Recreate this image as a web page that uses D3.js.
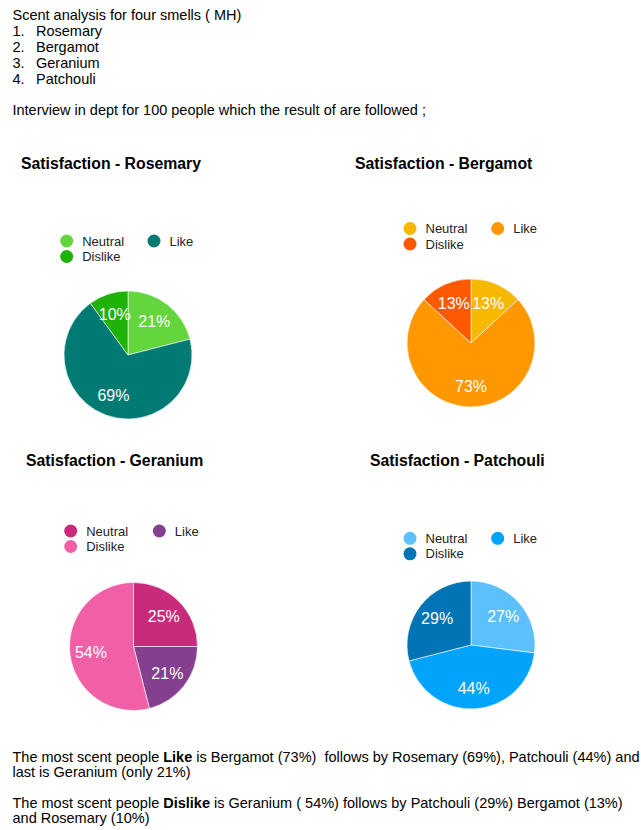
<!DOCTYPE html>
<html>
<head>
<meta charset="utf-8">
<script src="https://cdn.jsdelivr.net/npm/d3@7"></script>
<style>
  html, body { margin: 0; padding: 0; background: #fff; }
  svg { display: block; }
  text { font-family: "Liberation Sans", Arial, Helvetica, sans-serif; }
</style>
</head>
<body>
<svg id="page" width="641" height="830"></svg>
<script>
// Survey answers for each scent (percent of 100 people)
const categories = ["Neutral", "Like", "Dislike"];
const scents = ["Rosemary", "Bergamot", "Geranium", "Patchouli"];
const rosemaryValues  = [21, 69, 10];
const bergamotValues  = [13, 73, 13];
const geraniumValues  = [25, 21, 54];
const patchouliValues = [27, 44, 29];

const rosemaryColors  = ["#62d63c", "#007a72", "#1fb209"];
const bergamotColors  = ["#f6b800", "#fe9700", "#ff5900"];
const geraniumColors  = ["#c92a79", "#84408e", "#f160a6"];
const patchouliColors = ["#5cc0fc", "#02a3fa", "#0274b6"];

const introLines = ["Scent analysis for four smells ( MH)"];
const listItems = ["Rosemary", "Bergamot", "Geranium", "Patchouli"];
const interviewLine = "Interview in dept for 100 people which the result of are followed ;";

const svg = d3.select("#page");

// Header text
const head = svg.append("g").attr("fill", "#000").attr("font-size", 14.5);
head.append("text").attr("x", 12.5).attr("y", 19.5).text(introLines[0]);
listItems.forEach((item, i) => {
  const y = 35.5 + i * 16;
  head.append("text").attr("x", 12.5).attr("y", y).text((i + 1) + ".");
  head.append("text").attr("x", 36).attr("y", y).text(item);
});
head.append("text").attr("x", 12.5).attr("y", 115).text(interviewLine);

// Layout of the four panels
const panels = [
  { name: scents[0], values: rosemaryValues,  colors: rosemaryColors,
    title: [21, 169],  legend: [66.7, 241, 154], center: [128, 355] },
  { name: scents[1], values: bergamotValues,  colors: bergamotColors,
    title: [355, 169], legend: [410, 228.5, 497.7], center: [471, 343] },
  { name: scents[2], values: geraniumValues,  colors: geraniumColors,
    title: [26, 466],  legend: [70.7, 531, 159.3], center: [133.5, 646.5] },
  { name: scents[3], values: patchouliValues, colors: patchouliColors,
    title: [370, 466], legend: [410, 538.3, 497.7], center: [471, 645] }
];

const radius = 64;
const pie = d3.pie().sort(null).value(d => d.value);
const arc = d3.arc().innerRadius(0).outerRadius(radius);
const labelArc = d3.arc().innerRadius(radius * 0.67).outerRadius(radius * 0.67);

panels.forEach(p => {
  const g = svg.append("g");

  g.append("text")
    .attr("x", p.title[0]).attr("y", p.title[1])
    .attr("font-size", 15.8).attr("font-weight", "bold").attr("fill", "#000")
    .text("Satisfaction - " + p.name);

  const color = d3.scaleOrdinal().domain(categories).range(p.colors);

  // Legend: Neutral and Like on the first row, Dislike below
  const [lx, ly, lx2] = p.legend;
  const legendPos = {
    Neutral: [lx, ly],
    Like: [lx2, ly],
    Dislike: [lx, ly + 15.5]
  };
  const leg = g.append("g").selectAll("g").data(categories).join("g")
    .attr("transform", d => `translate(${legendPos[d][0]},${legendPos[d][1]})`);
  leg.append("circle").attr("r", 6.5).attr("fill", d => color(d));
  leg.append("text").attr("x", 15.5).attr("y", 4.6)
    .attr("font-size", 13).attr("fill", "#222").text(d => d);

  // Pie slices, clockwise from 12 o'clock
  const data = categories.map((c, i) => ({ key: c, value: p.values[i] }));
  const arcs = pie(data);
  const pg = g.append("g").attr("transform", `translate(${p.center[0]},${p.center[1]})`);
  pg.selectAll("path").data(arcs).join("path")
    .attr("d", arc)
    .attr("fill", d => color(d.data.key))
    .attr("stroke", "#fff").attr("stroke-width", 0.6);
  pg.selectAll("text").data(arcs).join("text")
    .attr("transform", d => `translate(${labelArc.centroid(d)})`)
    .attr("text-anchor", "middle").attr("dy", "0.36em")
    .attr("font-size", 16).attr("fill", "#fff")
    .text(d => d.data.value + "%");
});

// Summary text
const foot = svg.append("g").attr("fill", "#000").attr("font-size", 14.5);
function richLine(y, parts) {
  const t = foot.append("text").attr("x", 12.5).attr("y", y).attr("xml:space", "preserve");
  parts.forEach(([s, bold]) => {
    t.append("tspan").attr("font-weight", bold ? "bold" : null).text(s);
  });
}
richLine(762, [["The most scent people "], ["Like", true], [" is Bergamot (73%)  follows by Rosemary (69%), Patchouli (44%) and"]]);
richLine(777, [["last is Geranium (only 21%)"]]);
richLine(808, [["The most scent people "], ["Dislike", true], [" is Geranium ( 54%) follows by Patchouli (29%) Bergamot (13%)"]]);
richLine(823, [["and Rosemary (10%)"]]);
</script>
</body>
</html>
